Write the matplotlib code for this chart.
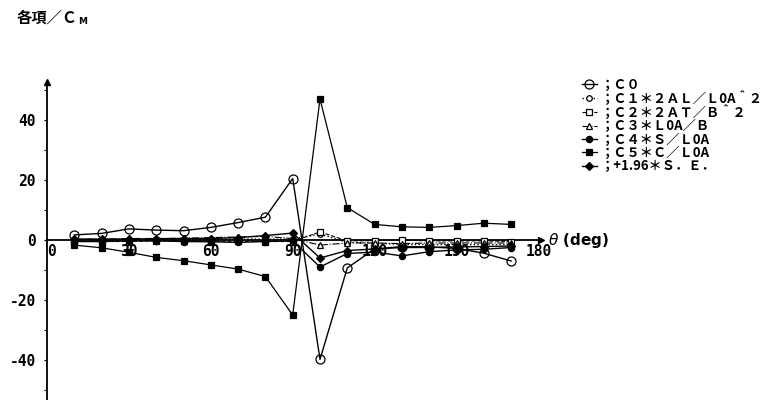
"""
Coefficient contributions (各項/CM) against heading angle θ.
Scanned-report style: axes crossing at the origin, arrows on both axes.
"""

import matplotlib
matplotlib.use("Agg")
import matplotlib.pyplot as plt
import matplotlib.ticker as mticker

CJK = ["Noto Sans CJK JP", "DejaVu Sans"]
plt.rcParams["font.family"] = CJK

# ── Data ────────────────────────────────────────────────────────────────────

theta = [10, 20, 30, 40, 50, 60, 70, 80, 90,
         100, 110, 120, 130, 140, 150, 160, 170]

c0 = [1.7, 2.2, 3.7, 3.3, 3.1, 4.2, 5.8, 7.6, 20.5,
      -39.8, -9.3, -3.0, -2.2, -2.3, -2.8, -4.4, -7.0]
c1 = [0.0, 0.0, 0.0, 0.2, 0.2, 0.2, 0.3, 0.3, 0.3,
      2.0, -0.8, -1.0, -1.5, -1.5, -1.5, -1.6, -1.5]
c2 = [-0.5, -0.5, -0.5, -0.3, -0.3, -0.4, -0.4, -0.5, -0.5,
      2.7, -0.3, -0.2, 0.0, -0.3, -0.3, -0.3, -0.5]
c3 = [0.3, 0.3, 0.5, 0.5, 0.6, 0.8, 1.0, 1.2, 0.5,
      -1.7, -1.0, -1.0, -1.2, -1.0, -1.0, -1.0, -1.0]
c4 = [-0.5, -0.5, -0.3, -0.3, -0.5, -0.6, -0.8, -0.5, -0.3,
      -9.0, -4.5, -4.0, -5.3, -3.9, -3.3, -3.1, -2.5]
c5 = [-1.7, -2.6, -4.1, -5.8, -6.9, -8.3, -9.7, -12.2, -25.0,
      47.0, 10.8, 5.2, 4.4, 4.2, 4.8, 5.6, 5.2]
se = [0.3, 0.3, 0.3, 0.4, 0.5, 0.5, 0.8, 1.5, 2.3,
      -6.0, -3.5, -3.0, -2.5, -2.5, -2.3, -2.2, -2.0]

labels = [
    "；Ｃ０",
    "；Ｃ１＊２ＡＬ／Ｌ0A＾２",
    "；Ｃ２＊２ＡＴ／Ｂ＾２",
    "；Ｃ３＊Ｌ0A／Ｂ",
    "；Ｃ４＊Ｓ／Ｌ0A",
    "；Ｃ５＊Ｃ／Ｌ0A",
    "；+1.96＊Ｓ．Ｅ．",
]

x_ticks = [0, 30, 60, 90, 120, 150, 180]
y_ticks = [-40, -20, 0, 20, 40]
y_minor = [-50, -30, -10, 10, 30, 50]

# ── Figure ──────────────────────────────────────────────────────────────────

W, H = 781, 400
fig = plt.figure(figsize=(W / 100, H / 100), dpi=100)
ax = fig.add_axes([0, 0, 1, 1])

# pixel layout of the scan: θ=0 at x=47px (2.73 px/deg), value 0 at y=240px (3 px/unit)
x0, sx = 47, 2.73
y0, sy = 240, 3.0
ax.set_xlim(-x0 / sx, (W - x0) / sx)
ax.set_ylim((y0 - H) / sy, y0 / sy)

k = "black"
series = [
    (c0, dict(marker="o", ms=6.5, mfc="none", ls="-", lw=1.0)),
    (c1, dict(marker="o", ms=4, mfc="white", ls=":", lw=1.0)),
    (c2, dict(marker="s", ms=4.5, mfc="white", ls="--", lw=0.8)),
    (c3, dict(marker="^", ms=5, mfc="white", ls="-.", lw=0.8)),
    (c4, dict(marker="o", ms=4.5, mfc=k, ls="-", lw=1.0)),
    (c5, dict(marker="s", ms=5, mfc=k, ls="-", lw=0.9)),
    (se, dict(marker="D", ms=4.5, mfc=k, ls="-", lw=1.0)),
]
for (vals, kw), lab in zip(series, labels):
    ax.plot(theta, vals, color=k, mec=k, mew=0.9, label=lab, zorder=3, **kw)

# axes through the origin, with arrow heads
for s in ("top", "right"):
    ax.spines[s].set_visible(False)
ax.spines["left"].set_position(("data", 0))
ax.spines["bottom"].set_position(("data", 0))
ax.spines["left"].set_bounds((y0 - H) / sy, 52.7)
ax.spines["bottom"].set_bounds(0, 181)
for s in ("left", "bottom"):
    ax.spines[s].set_linewidth(1.3)
    ax.spines[s].set_zorder(2)
ax.plot(0, 52.7, marker="^", color=k, ms=4, clip_on=False, zorder=4)
ax.plot(181, 0, marker=">", color=k, ms=4, clip_on=False, zorder=4)

tick_font = dict(family="DejaVu Sans Mono", weight="bold", size=10.5)
ax.set_xticks(x_ticks)
ax.set_xticklabels([str(t) for t in x_ticks], **tick_font)
ax.tick_params(axis="x", length=0, pad=3)
ax.get_xticklabels()[0].set_ha("left")

ax.set_yticks(y_ticks)
ax.set_yticklabels([str(t) for t in y_ticks], **tick_font)
ax.yaxis.set_minor_locator(mticker.FixedLocator(y_minor))
ax.tick_params(axis="y", which="both", length=2, width=0.8, pad=6)

ax.text(183.5, 0, r"$\theta$ (deg)", ha="left", va="center",
        fontsize=11, fontweight="bold", family="DejaVu Sans")

ax.legend(loc="upper left", bbox_to_anchor=(582 / W, 1 - 78 / H),
          bbox_transform=fig.transFigure, frameon=False,
          prop=dict(family=CJK, size=9.5, weight="bold"), handlelength=1.1,
          handletextpad=0.3, labelspacing=-0.05, borderpad=0,
          borderaxespad=0)

fig.text(17 / W, 1 - 18 / H, "各項／Ｃ", ha="left", va="center",
         fontsize=11, fontweight="bold", family=CJK)
fig.text(78 / W, 1 - 21 / H, "M", ha="left", va="center",
         fontsize=6.5, fontweight="bold", family="DejaVu Sans")

fig.savefig("out.png", dpi=100)
